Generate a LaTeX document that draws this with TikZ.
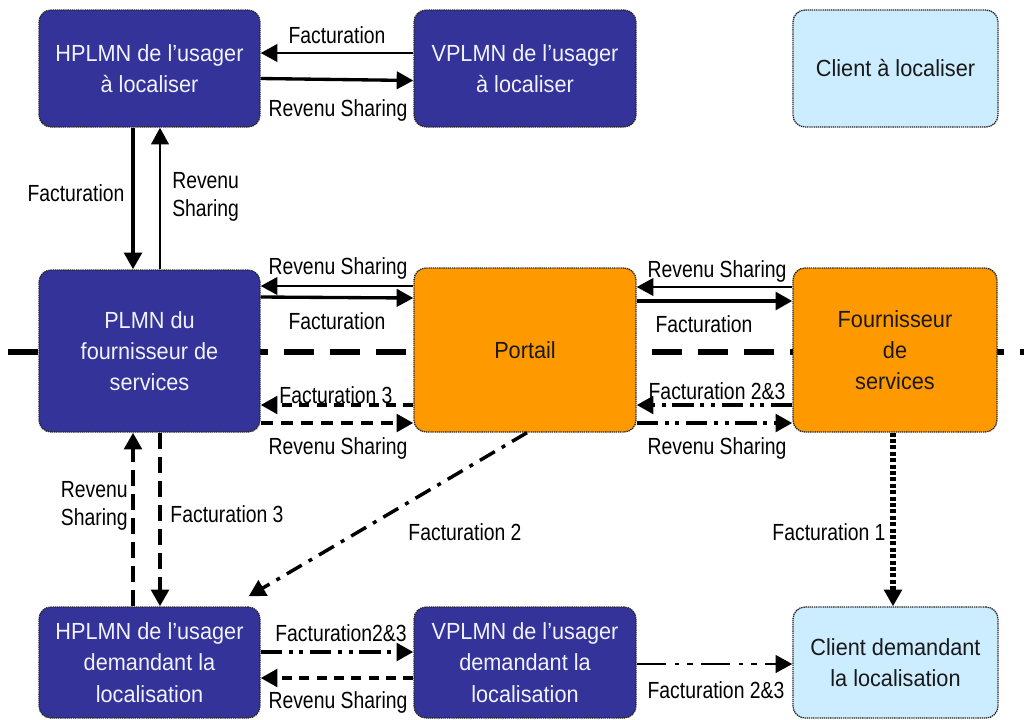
\documentclass[tikz,border=0pt]{standalone}
\usepackage{fontspec}
\setmainfont[FakeStretch=0.93]{Liberation Sans}
\newfontfamily\lblfamily[FakeStretch=0.83]{Liberation Sans}
\usetikzlibrary{arrows.meta,calc}
\definecolor{netblue}{HTML}{333399}
\definecolor{nettext}{HTML}{F2F2FF}
\definecolor{portorange}{HTML}{FF9900}
\definecolor{clientblue}{HTML}{CCECFF}
\begin{document}
\begin{tikzpicture}[x=0.75pt,y=-0.75pt,
  box/.style={draw=black!85, dash pattern=on 1pt off 0.6pt, line width=1pt, rounded corners=9pt,
    inner sep=0pt, align=center, font=\fontsize{17.5}{23.5}\selectfont},
  netbox/.style={box, fill=netblue, text=nettext},
  orgbox/.style={box, fill=portorange, text=black!90},
  clientbox/.style={box, fill=clientblue, text=black!90},
  lbl/.style={font=\lblfamily\fontsize{17.5}{21.5}\selectfont, inner sep=0pt, text=black},
  flow/.style={-{Triangle[length=12.5pt,width=13pt]}, line width=2.5pt},
  thinflow/.style={flow, line width=2.2pt},
  thickflow/.style={flow, line width=3.6pt},
  dashflow/.style={flow, line width=3pt, dash pattern=on 7.5pt off 5.5pt},
  longdashflow/.style={flow, line width=3pt, dash pattern=on 9pt off 6pt},
  vdashflow/.style={flow, line width=3.4pt, dash pattern=on 12pt off 6pt},
  dddflow/.style={flow, line width=3pt, dash pattern=on 16pt off 5pt on 3pt off 5pt on 3pt off 5pt},
  ddflow/.style={flow, line width=2.6pt, dash pattern=on 13pt off 6pt on 3pt off 6pt},
  thinddflow/.style={flow, line width=2.2pt, dash pattern=on 22pt off 7pt on 3pt off 6pt on 4pt off 6pt},
  dotflow/.style={flow, line width=4pt, dash pattern=on 3pt off 1.8pt},
  separator/.style={line width=4.5pt, dash pattern=on 22.5pt off 12pt}
]
\useasboundingbox (0,0) rectangle (1024,719);

% separator line between the operator side and the service side
\draw[separator] (8,352) -- (1024,352);

% boxes
\node[netbox, minimum width=165.75pt, minimum height=87.75pt] (A) at (149.5,68.5)
  {HPLMN de l’usager\\à localiser};
\node[netbox, minimum width=166.5pt, minimum height=87.75pt] (B) at (525,68.5)
  {VPLMN de l’usager\\à localiser};
\node[clientbox, minimum width=153.75pt, minimum height=87.75pt] (C) at (895.5,68.5)
  {Client à localiser};
\node[netbox, minimum width=165.75pt, minimum height=121.5pt] (D) at (149.5,351)
  {PLMN du\\fournisseur de\\services};
\node[orgbox, minimum width=166.5pt, minimum height=123pt] (E) at (525,350)
  {Portail};
\node[orgbox, minimum width=153pt, minimum height=123pt] (F) at (895,350)
  {Fournisseur\\de\\services};
\node[netbox, minimum width=165.75pt, minimum height=83.25pt] (G) at (149.5,662.5)
  {HPLMN de l’usager\\demandant la\\localisation};
\node[netbox, minimum width=166.5pt, minimum height=83.25pt] (H) at (525,662.5)
  {VPLMN de l’usager\\demandant la\\localisation};
\node[clientbox, minimum width=153.75pt, minimum height=83.25pt] (I) at (895.5,662.5)
  {Client demandant\\la localisation};

% flows between the networks of the located user
\draw[thinflow] ($(B.west)+(0,-15.5)$) -- ($(A.east)+(0,-15.5)$);
\draw[flow] ($(A.east)+(0,10)$) -- ($(B.west)+(0,12)$);
\draw[thickflow] ($(A.south)+(-16.5,0)$) -- ($(D.north)+(-16.5,0)$);
\draw[thinflow] ($(D.north)+(10.5,0)$) -- ($(A.south)+(10.5,0)$);

% flows around the portal
\draw[thinflow] ($(E.west)+(0,-64)$) -- ($(D.east)+(0,-65)$);
\draw[flow] ($(D.east)+(0,-54)$) -- ($(E.west)+(0,-52)$);
\draw[thinflow] ($(F.west)+(0,-63)$) -- ($(E.east)+(0,-63)$);
\draw[thickflow] ($(E.east)+(0,-49)$) -- ($(F.west)+(0,-49)$);
\draw[dashflow] ($(E.west)+(0,55)$) -- ($(D.east)+(0,54)$);
\draw[longdashflow] ($(D.east)+(0,72)$) -- ($(E.west)+(0,73)$);
\draw[dddflow] ($(F.west)+(0,55)$) -- ($(E.east)+(0,55)$);
\draw[dddflow] ($(E.east)+(0,73)$) -- ($(F.west)+(0,73)$);

% flows towards the requesting side
\draw[vdashflow] ($(G.north)+(-16.5,0)$) -- ($(D.south)+(-16.5,0)$);
\draw[vdashflow] ($(D.south)+(10.5,0)$) -- ($(G.north)+(10.5,0)$);
\draw[ddflow] ($(E.south)+(2,0)$) -- ($(G.north east)+(-12,-10)$);
\draw[dotflow] ($(F.south)+(-2,0)$) -- ($(I.north)+(-2.5,0)$);
\draw[dddflow] ($(G.east)+(0,-10.5)$) -- ($(H.west)+(0,-10.5)$);
\draw[dashflow] ($(H.west)+(0,15.5)$) -- ($(G.east)+(0,15.5)$);
\draw[thinddflow] ($(H.east)+(0,1.5)$) -- ($(I.west)+(0,1.5)$);

% flow labels
\node[lbl] (l1) at (337,35) {Facturation};
\node[lbl] (l2) at (338,110) {Revenu Sharing};
\node[lbl] (l3) at (76,193) {Facturation};
\node[lbl, align=left, anchor=west] (l4) at (172,197) {Revenu\\Sharing};
\node[lbl] (l5) at (338,268) {Revenu Sharing};
\node[lbl] (l6) at (337,321) {Facturation};
\node[lbl] (l7) at (717,271) {Revenu Sharing};
\node[lbl] (l8) at (704,324) {Facturation};
\node[lbl] (l9) at (336,395) {Facturation 3};
\node[lbl] (l10) at (338,448) {Revenu Sharing};
\node[lbl] (l11) at (717,391) {Facturation 2\&3};
\node[lbl] (l12) at (717,448) {Revenu Sharing};
\node[lbl, align=right, anchor=east] (l13) at (128,506) {Revenu\\Sharing};
\node[lbl] (l14) at (227,514) {Facturation 3};
\node[lbl] (l15) at (465,532) {Facturation 2};
\node[lbl] (l16) at (829,532) {Facturation 1};
\node[lbl] (l17) at (341,633) {Facturation2\&3};
\node[lbl] (l18) at (338,702) {Revenu Sharing};
\node[lbl] (l19) at (716,690) {Facturation 2\&3};
\end{tikzpicture}
\end{document}
